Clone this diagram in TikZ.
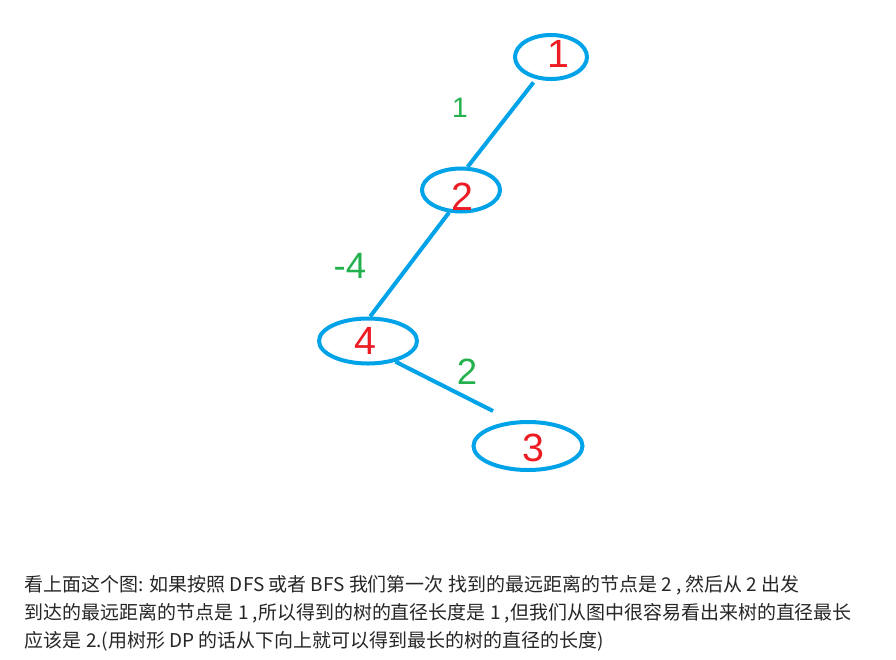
\documentclass[tikz,border=0pt]{standalone}
\usepackage{fontspec}
\usepackage{tikz}
\usetikzlibrary{shapes.geometric}
\newfontfamily\cjk{Noto Sans CJK SC}
\setsansfont{Liberation Sans}
\definecolor{paintblue}{RGB}{0,162,232}
\definecolor{paintred}{RGB}{237,28,36}
\definecolor{paintgreen}{RGB}{34,177,76}

\begin{document}
\begin{tikzpicture}[
  x=0.025cm, y=-0.025cm,
  vertex/.style={ellipse, draw=paintblue, line width=0.1cm, inner sep=0pt},
  vlabel/.style={text=paintred, font=\sffamily\fontsize{28}{28}\selectfont},
  weight/.style={text=paintgreen, font=\sffamily\fontsize{26}{26}\selectfont},
  link/.style={draw=paintblue, line width=0.1cm},
  caption/.style={anchor=north west, align=left, text=black!85, font=\cjk\fontsize{13.5}{20}\selectfont}
]
  \useasboundingbox (0,0) rectangle (896,659);
  \node[vertex, minimum width=1.8cm, minimum height=1.1cm]     (v1) at (551, 57) {};
  \node[vertex, minimum width=1.95cm, minimum height=1.075cm]  (v2) at (461,190) {};
  \node[vertex, minimum width=2.45cm, minimum height=1.125cm]  (v4) at (368,341) {};
  \node[vertex, minimum width=2.725cm, minimum height=1.2cm]   (v3) at (528,446) {};
  \coordinate (end43) at (493,411);
  \draw[link, shorten <=3pt] (v1.236) -- (v2.74);
  \draw[link] (v2.242) -- (v4.85);
  \draw[link] (v4.323) -- (end43);
  \node[vlabel] (l1) at (558, 54) {1};
  \node[vlabel] (l2) at (462,197) {2};
  \node[vlabel] (l4) at (365,341) {4};
  \node[vlabel] (l3) at (533,448) {3};
  \node[weight, font=\sffamily\fontsize{20}{20}\selectfont] (w12) at (460,108) {1};
  \node[weight] (w24) at (350,266) {-4};
  \node[weight] (w43) at (467,372) {2};
  % Annotate
  \node[caption] (note) at (20,570) {看上面这个图: 如果按照 DFS 或者 BFS 我们第一次 找到的最远距离的节点是 2 , 然后从 2 出发\\
    到达的最远距离的节点是 1 ,所以得到的树的直径长度是 1 ,但我们从图中很容易看出来树的直径最长\\
    应该是 2.(用树形 DP 的话从下向上就可以得到最长的树的直径的长度)};
\end{tikzpicture}
\end{document}
